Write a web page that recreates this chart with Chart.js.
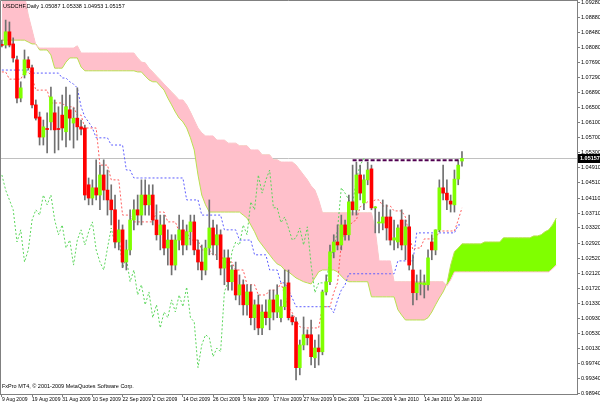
<!DOCTYPE html>
<html>
<head>
<meta charset="utf-8">
<script src="https://cdn.jsdelivr.net/npm/chart.js@4/dist/chart.umd.min.js"></script>
<style>
  html, body { margin: 0; padding: 0; background: #fff; }
  #wrap { width: 600px; height: 404px; }
</style>
</head>
<body>
<div id="wrap"><canvas id="chart" width="600" height="404"></canvas></div>
<script>
// USDCHF daily bars, one entry per trading day, bar 0 = first bar on screen
const opens = [
  1.0815, 1.0815, 1.0850, 1.0818, 1.0776, 1.0675, 1.0736, 1.0776, 1.0755, 1.0657,
  1.0625, 1.0572, 1.0593, 1.0612, 1.0636, 1.0593, 1.0630, 1.0586, 1.0644, 1.0609,
  1.0622, 1.0599, 1.0596, 1.0446, 1.0411, 1.0438, 1.0419, 1.0472, 1.0432, 1.0406,
  1.0380, 1.0295, 1.0327, 1.0242, 1.0274, 1.0353, 1.0380, 1.0366, 1.0419, 1.0393,
  1.0419, 1.0353, 1.0314, 1.0340, 1.0279, 1.0300, 1.0234, 1.0300, 1.0327, 1.0287,
  1.0322, 1.0348, 1.0274, 1.0242, 1.0221, 1.0279, 1.0332, 1.0287, 1.0314, 1.0226,
  1.0253, 1.0190, 1.0221, 1.0155, 1.0182, 1.0129, 1.0163, 1.0095, 1.0129, 1.0068,
  1.0110, 1.0095, 1.0142, 1.0110, 1.0095, 1.0124, 1.0187, 1.0097, 1.0084, 0.9963,
  1.0023, 1.0050, 1.0050, 0.9989, 1.0015, 1.0005, 1.0163, 1.0190, 1.0269, 1.0295,
  1.0287, 1.0340, 1.0314, 1.0401, 1.0380, 1.0472, 1.0398, 1.0459, 1.0488, 1.0385,
  1.0345, 1.0345, 1.0361, 1.0361, 1.0300, 1.0295, 1.0353, 1.0287, 1.0335, 1.0221,
  1.0161, 1.0184, 1.0182, 1.0182, 1.0295, 1.0274, 1.0327, 1.0438, 1.0424, 1.0403,
  1.0393, 1.0461, 1.05087
];
const highs = [
  1.0828, 1.0881, 1.0876, 1.0834, 1.0786, 1.0718, 1.0802, 1.0784, 1.0762, 1.0670,
  1.0638, 1.0617, 1.0636, 1.0704, 1.0670, 1.0652, 1.0683, 1.0704, 1.0683, 1.0649,
  1.0702, 1.0617, 1.0604, 1.0464, 1.0459, 1.0512, 1.0498, 1.0512, 1.0485, 1.0446,
  1.0419, 1.0353, 1.0340, 1.0300, 1.0380, 1.0406, 1.0419, 1.0459, 1.0459, 1.0446,
  1.0446, 1.0393, 1.0366, 1.0366, 1.0327, 1.0314, 1.0314, 1.0366, 1.0353, 1.0340,
  1.0366, 1.0366, 1.0300, 1.0287, 1.0300, 1.0406, 1.0353, 1.0340, 1.0327, 1.0274,
  1.0274, 1.0234, 1.0242, 1.0208, 1.0195, 1.0182, 1.0182, 1.0142, 1.0155, 1.0129,
  1.0142, 1.0168, 1.0168, 1.0182, 1.0142, 1.0221, 1.0221, 1.0102, 1.0095, 1.0036,
  1.0097, 1.0063, 1.0089, 1.0036, 1.0050, 1.0168, 1.0208, 1.0287, 1.0314, 1.0340,
  1.0366, 1.0353, 1.0419, 1.0498, 1.0506, 1.0498, 1.0472, 1.0506, 1.0498, 1.0388,
  1.0374, 1.0406, 1.0393, 1.0380, 1.0353, 1.0340, 1.0380, 1.0353, 1.0366, 1.0261,
  1.0208, 1.0221, 1.0208, 1.0274, 1.0314, 1.0327, 1.0459, 1.0498, 1.0459, 1.0419,
  1.0485, 1.0512, 1.05338
];
const lows = [
  1.0810, 1.0807, 1.0810, 1.0770, 1.0662, 1.0665, 1.0728, 1.0749, 1.0649, 1.0617,
  1.0551, 1.0551, 1.0530, 1.0591, 1.0530, 1.0538, 1.0564, 1.0546, 1.0564, 1.0543,
  1.0564, 1.0578, 1.0406, 1.0393, 1.0393, 1.0406, 1.0380, 1.0406, 1.0366, 1.0340,
  1.0279, 1.0274, 1.0227, 1.0221, 1.0261, 1.0327, 1.0340, 1.0340, 1.0366, 1.0366,
  1.0340, 1.0300, 1.0274, 1.0261, 1.0234, 1.0208, 1.0221, 1.0274, 1.0261, 1.0274,
  1.0287, 1.0261, 1.0221, 1.0195, 1.0208, 1.0261, 1.0261, 1.0248, 1.0208, 1.0182,
  1.0168, 1.0168, 1.0142, 1.0129, 1.0102, 1.0102, 1.0076, 1.0063, 1.0050, 1.0050,
  1.0076, 1.0063, 1.0089, 1.0095, 1.0084, 1.0116, 1.0089, 1.0076, 0.9931, 0.9944,
  1.0010, 1.0023, 0.9970, 0.9963, 0.9970, 0.9997, 1.0155, 1.0182, 1.0253, 1.0274,
  1.0274, 1.0300, 1.0300, 1.0366, 1.0366, 1.0406, 1.0380, 1.0446, 1.0380, 1.0319,
  1.0319, 1.0327, 1.0300, 1.0287, 1.0274, 1.0279, 1.0274, 1.0248, 1.0221, 1.0129,
  1.0142, 1.0155, 1.0147, 1.0168, 1.0248, 1.0261, 1.0322, 1.0406, 1.0380, 1.0374,
  1.0374, 1.0446, 1.04953
];
const closes = [
  1.0814, 1.0850, 1.0815, 1.0781, 1.0675, 1.0702, 1.0776, 1.0755, 1.0657, 1.0622,
  1.0572, 1.0599, 1.0592, 1.0678, 1.0591, 1.0592, 1.0596, 1.0652, 1.0622, 1.0622,
  1.0599, 1.0593, 1.0419, 1.0411, 1.0438, 1.0419, 1.0472, 1.0432, 1.0406, 1.0380,
  1.0295, 1.0327, 1.0242, 1.0274, 1.0353, 1.0380, 1.0366, 1.0419, 1.0393, 1.0419,
  1.0353, 1.0314, 1.0340, 1.0279, 1.0300, 1.0234, 1.0300, 1.0327, 1.0287, 1.0322,
  1.0348, 1.0274, 1.0242, 1.0221, 1.0279, 1.0332, 1.0287, 1.0314, 1.0226, 1.0253,
  1.0190, 1.0221, 1.0155, 1.0182, 1.0129, 1.0163, 1.0095, 1.0129, 1.0068, 1.0110,
  1.0095, 1.0142, 1.0110, 1.0155, 1.0124, 1.0176, 1.0095, 1.0084, 0.9963, 1.0023,
  1.0050, 1.0042, 0.9992, 1.0015, 1.0005, 1.0163, 1.0190, 1.0269, 1.0295, 1.0287,
  1.0340, 1.0314, 1.0401, 1.0380, 1.0472, 1.0424, 1.0459, 1.0485, 1.0385, 1.0386,
  1.0346, 1.0361, 1.0332, 1.0300, 1.0306, 1.0332, 1.0287, 1.0335, 1.0234, 1.0161,
  1.0187, 1.0187, 1.0187, 1.0253, 1.0274, 1.0327, 1.0438, 1.0424, 1.0406, 1.0395,
  1.0461, 1.0498, 1.05157
];

// ichimoku lines
const tenkan = [
  1.0744, 1.0744, 1.0725, 1.0725, 1.0725, 1.0725, 1.0744, 1.0744, 1.0731, 1.0696,
  1.0696, 1.0696, 1.0696, 1.0662, 1.0662, 1.0662, 1.0662, 1.0652, 1.0652, 1.0652,
  1.0630, 1.0630, 1.0596, 1.0596, 1.0596, 1.0596, 1.0498, 1.0498, 1.0498, 1.0459,
  1.0459, 1.0459, 1.0366, 1.0366, 1.0366, 1.0348, 1.0348, 1.0348, 1.0348, 1.0348,
  1.0348, 1.0374, 1.0374, 1.0374, 1.0348, 1.0348, 1.0348, 1.0322, 1.0322, 1.0322,
  1.0300, 1.0300, 1.0300, 1.0274, 1.0274, 1.0274, 1.0261, 1.0261, 1.0261, 1.0242,
  1.0242, 1.0242, 1.0221, 1.0221, 1.0221, 1.0182, 1.0182, 1.0182, 1.0155, 1.0155,
  1.0155, 1.0168, 1.0168, 1.0168, 1.0187, 1.0155, 1.0124, 1.0108, 1.0089, 1.0071,
  1.0068, 1.0068, 1.0068, 1.0068, 1.0068, 1.0124, 1.0124, 1.0124, 1.0161, 1.0187,
  1.0292, 1.0327, 1.0335, 1.0348, 1.0353, 1.0388, 1.0393, 1.0401, 1.0401, 1.0406,
  1.0406, 1.0390, 1.0390, 1.0390, 1.0377, 1.0377, 1.0377, 1.0361, 1.0314, 1.0274,
  1.0279, 1.0279, 1.0303, 1.0303, 1.0303, 1.0303, 1.0324, 1.0324, 1.0324, 1.0324,
  1.0324, 1.0353, 1.0385
];
const kijun = [
  1.0749, 1.0749, 1.0749, 1.0749, 1.0749, 1.0749, 1.0749, 1.0749, 1.0741, 1.0741,
  1.0741, 1.0741, 1.0741, 1.0741, 1.0741, 1.0741, 1.0728, 1.0728, 1.0718, 1.0712,
  1.0702, 1.0652, 1.0625, 1.0612, 1.0596, 1.0570, 1.0570, 1.0570, 1.0570, 1.0551,
  1.0551, 1.0551, 1.0551, 1.0485, 1.0485, 1.0464, 1.0464, 1.0464, 1.0464, 1.0464,
  1.0464, 1.0464, 1.0464, 1.0464, 1.0464, 1.0464, 1.0464, 1.0464, 1.0464, 1.0406,
  1.0406, 1.0406, 1.0406, 1.0366, 1.0366, 1.0366, 1.0366, 1.0366, 1.0366, 1.0327,
  1.0327, 1.0327, 1.0327, 1.0300, 1.0300, 1.0300, 1.0300, 1.0261, 1.0261, 1.0261,
  1.0261, 1.0221, 1.0221, 1.0221, 1.0187, 1.0187, 1.0168, 1.0147, 1.0124, 1.0124,
  1.0124, 1.0124, 1.0124, 1.0124, 1.0124, 1.0124, 1.0124, 1.0124, 1.0108, 1.0142,
  1.0168, 1.0182, 1.0211, 1.0211, 1.0211, 1.0211, 1.0211, 1.0211, 1.0211, 1.0211,
  1.0211, 1.0211, 1.0211, 1.0211, 1.0211, 1.0245, 1.0245, 1.0245, 1.0245, 1.0245,
  1.0319, 1.0319, 1.0319, 1.0319, 1.0319, 1.0319, 1.0319, 1.0319, 1.0319, 1.0319,
  1.0319, 1.0340, 1.0340
];
// cloud, already shifted 26 bars forward (runs past the last candle)
const spanA = [
  1.0828, 1.0828, 1.0828, 1.0828, 1.0828, 1.0828, 1.0828, 1.0823, 1.0818, 1.0818,
  1.0802, 1.0802, 1.0802, 1.0789, 1.0754, 1.0754, 1.0754, 1.0770, 1.0781, 1.0781,
  1.0781, 1.0757, 1.0747, 1.0747, 1.0747, 1.0747, 1.0747, 1.0747, 1.0747, 1.0747,
  1.0747, 1.0747, 1.0747, 1.0747, 1.0747, 1.0747, 1.0744, 1.0744, 1.0733, 1.0723,
  1.0718, 1.0718, 1.0707, 1.0696, 1.0675, 1.0657, 1.0638, 1.0622, 1.0612, 1.0596,
  1.0570, 1.0538, 1.0472, 1.0419, 1.0393, 1.0374, 1.0374, 1.0374, 1.0374, 1.0374,
  1.0374, 1.0374, 1.0374, 1.0374, 1.0366, 1.0358, 1.0340, 1.0322, 1.0300, 1.0287,
  1.0274, 1.0261, 1.0248, 1.0237, 1.0232, 1.0221, 1.0216, 1.0208, 1.0200, 1.0195,
  1.0190, 1.0187, 1.0184, 1.0200, 1.0216, 1.0221, 1.0221, 1.0221, 1.0221, 1.0216,
  1.0205, 1.0195, 1.0190, 1.0190, 1.0190, 1.0190, 1.0190, 1.0190, 1.0150, 1.0150,
  1.0150, 1.0150, 1.0150, 1.0150, 1.0150, 1.0116, 1.0102, 1.0089, 1.0089, 1.0089,
  1.0089, 1.0089, 1.0089, 1.0095, 1.0110, 1.0129, 1.0147, 1.0163, 1.0184, 1.0234,
  1.0269, 1.0279, 1.0290, 1.0290, 1.0290, 1.0290, 1.0290, 1.0290, 1.0295, 1.0295,
  1.0295, 1.0295, 1.0295, 1.0306, 1.0306, 1.0306, 1.0306, 1.0306, 1.0306, 1.0306,
  1.0306, 1.0311, 1.0311, 1.0314, 1.0322, 1.0327, 1.0340, 1.0358
];
const spanB = [
  1.0947, 1.0947, 1.0947, 1.0947, 1.0947, 1.0947, 1.0947, 1.0894, 1.0855, 1.0815,
  1.0807, 1.0807, 1.0807, 1.0807, 1.0807, 1.0807, 1.0807, 1.0807, 1.0807, 1.0807,
  1.0813, 1.0794, 1.0794, 1.0794, 1.0794, 1.0794, 1.0794, 1.0794, 1.0794, 1.0794,
  1.0794, 1.0794, 1.0794, 1.0794, 1.0794, 1.0794, 1.0781, 1.0770, 1.0768, 1.0754,
  1.0744, 1.0733, 1.0723, 1.0712, 1.0702, 1.0691, 1.0681, 1.0670, 1.0670, 1.0657,
  1.0638, 1.0617, 1.0596, 1.0583, 1.0575, 1.0575, 1.0575, 1.0564, 1.0564, 1.0564,
  1.0556, 1.0556, 1.0556, 1.0549, 1.0549, 1.0549, 1.0538, 1.0538, 1.0538, 1.0525,
  1.0525, 1.0525, 1.0512, 1.0512, 1.0506, 1.0506, 1.0506, 1.0506, 1.0498, 1.0485,
  1.0472, 1.0459, 1.0443, 1.0432, 1.0406, 1.0372, 1.0372, 1.0372, 1.0372, 1.0372,
  1.0372, 1.0372, 1.0372, 1.0372, 1.0372, 1.0372, 1.0372, 1.0372, 1.0372, 1.0327,
  1.0245, 1.0245, 1.0245, 1.0245, 1.0190, 1.0190, 1.0190, 1.0190, 1.0190, 1.0190,
  1.0190, 1.0190, 1.0190, 1.0190, 1.0190, 1.0190, 1.0190, 1.0190, 1.0179, 1.0195,
  1.0216, 1.0216, 1.0216, 1.0216, 1.0216, 1.0216, 1.0216, 1.0216, 1.0216, 1.0216,
  1.0216, 1.0216, 1.0216, 1.0216, 1.0216, 1.0216, 1.0216, 1.0216, 1.0216, 1.0216,
  1.0216, 1.0216, 1.0216, 1.0216, 1.0216, 1.0216, 1.0224, 1.0234
];

const dateTicks = [0, 8, 16, 24, 32, 40, 48, 56, 64, 72, 80, 88, 96, 104, 112, 120];
const dateLabels = [
  '9 Aug 2009', '19 Aug 2009', '31 Aug 2009', '10 Sep 2009', '22 Sep 2009', '2 Oct 2009',
  '14 Oct 2009', '26 Oct 2009', '5 Nov 2009', '17 Nov 2009', '27 Nov 2009', '9 Dec 2009',
  '21 Dec 2009', '4 Jan 2010', '14 Jan 2010', '26 Jan 2010'
];
const priceTicks = [
  '1.09280', '1.08880', '1.08480', '1.08080', '1.07690', '1.07290', '1.06890', '1.06500',
  '1.06100', '1.05700', '1.05300', '1.04910', '1.04510', '1.04110', '1.03710', '1.03320',
  '1.02920', '1.02520', '1.02120', '1.01720', '1.01330', '1.00930', '1.00530', '1.00130',
  '0.99740', '0.99340', '0.98940'
];
const symbol = 'USDCHF,Daily';
const lastQuote = ['1.05087', '1.05338', '1.04953', '1.05157'];
const copyright = 'FxPro MT4, \u00a9 2001-2009 MetaQuotes Software Corp.';
const resistance = { from: 93, to: 121, level: 1.0511 };

const SLOTS = 153;     // bar slots across the visible chart
const CHIKOU_SHIFT = 26;

const xy = (arr, shift) => arr.map((v, i) => ({ x: i + (shift || 0), y: v }));

const bodies = opens.map((o, i) => ({ x: i, y: [Math.min(o, closes[i]), Math.max(o, closes[i])] }));
const wicks = opens.map((o, i) => ({ x: i, y: [lows[i], highs[i]] }));
const bodyColors = opens.map((o, i) => {
  if (Math.abs(closes[i] - o) < 0.00005) return '#000000';
  return closes[i] > o ? '#80ff00' : '#ff0000';
});

const mtOverlay = {
  id: 'mtOverlay',
  beforeDatasetsDraw(chart) {
    const { ctx, chartArea: a, scales: { y } } = chart;
    const py = Math.round(y.getPixelForValue(closes[closes.length - 1])) + 0.5;
    ctx.save();
    ctx.strokeStyle = '#c0c0c0';
    ctx.lineWidth = 1;
    ctx.beginPath();
    ctx.moveTo(a.left, py);
    ctx.lineTo(a.right, py);
    ctx.stroke();
    ctx.restore();
  },
  afterDraw(chart) {
    const { ctx, chartArea: a, scales: { y } } = chart;
    ctx.save();
    // frame
    ctx.strokeStyle = '#808080';
    ctx.lineWidth = 1;
    ctx.beginPath();
    ctx.moveTo(a.left + 0.5, a.bottom);
    ctx.lineTo(a.left + 0.5, a.top + 0.5);
    ctx.lineTo(a.right, a.top + 0.5);
    ctx.stroke();

    ctx.fillStyle = '#000';
    ctx.font = '5.5px "Liberation Sans"';
    ctx.textBaseline = 'alphabetic';
    ctx.fillText(symbol + ' ' + lastQuote.join(' '), 3, 8);
    ctx.fillText(copyright, 2, 388);

    // current price tag
    const py = Math.round(y.getPixelForValue(closes[closes.length - 1]));
    ctx.fillStyle = '#000';
    ctx.fillRect(a.right + 1, py - 4, 600 - a.right, 9);
    ctx.fillStyle = '#fff';
    ctx.font = 'bold 5.5px "Liberation Sans"';
    ctx.textBaseline = 'middle';
    ctx.fillText(lastQuote[3], a.right + 3, py + 0.5);
    ctx.restore();
  }
};

new Chart(document.getElementById('chart'), {
  type: 'bar',
  data: {
    datasets: [
      {
        type: 'line', label: 'Senkou A', data: xy(spanA),
        borderColor: '#b8e050', borderWidth: 1, pointRadius: 0,
        fill: { target: '+1', above: '#80ff00', below: '#ffc0cb' }, order: 10
      },
      {
        type: 'line', label: 'Senkou B', data: xy(spanB),
        borderColor: '#ffc0cb', borderWidth: 1, pointRadius: 0, fill: false, order: 9
      },
      {
        type: 'line', label: 'Chikou', data: xy(closes.slice(CHIKOU_SHIFT)),
        borderColor: '#5cd65c', borderWidth: 1, borderDash: [2, 2], pointRadius: 0, order: 8
      },
      {
        type: 'line', label: 'Kijun', data: xy(kijun),
        borderColor: '#5c5cff', borderWidth: 1, borderDash: [2, 2], pointRadius: 0, order: 7
      },
      {
        type: 'line', label: 'Tenkan', data: xy(tenkan),
        borderColor: '#ff5c5c', borderWidth: 1, borderDash: [2, 2], pointRadius: 0, order: 6
      },
      {
        label: 'wick', data: wicks, backgroundColor: '#707070',
        barThickness: 1, grouped: false, order: 3
      },
      {
        label: 'body', data: bodies, backgroundColor: bodyColors,
        barThickness: 3, minBarLength: 1, grouped: false, order: 2
      },
      {
        type: 'line', label: 'resistance',
        data: [{ x: resistance.from, y: resistance.level }, { x: resistance.to, y: resistance.level }],
        borderColor: '#500050', borderWidth: 2, borderDash: [4, 2], pointRadius: 0, order: 1
      }
    ]
  },
  options: {
    responsive: false,
    animation: false,
    devicePixelRatio: 1,
    layout: { padding: 0 },
    plugins: { legend: { display: false }, tooltip: { enabled: false } },
    scales: {
      x: {
        type: 'linear',
        offset: false,
        min: -0.5,
        max: SLOTS - 0.5,
        grid: { drawOnChartArea: false, offset: false, tickLength: 3, color: '#808080' },
        border: { color: '#808080' },
        ticks: {
          autoSkip: false, maxRotation: 0, align: 'start', padding: 0,
          color: '#000', font: { family: 'Liberation Sans', size: 5 },
          callback: (v) => {
            const k = dateTicks.indexOf(v);
            return k < 0 ? '' : dateLabels[k];
          }
        },
        afterBuildTicks: (s) => { s.ticks = dateTicks.map((v) => ({ value: v })); },
        afterFit: (s) => { s.height = 10; s.paddingLeft = 0; s.paddingRight = 0; }
      },
      y: {
        type: 'linear',
        position: 'right',
        min: 0.98935,
        max: 1.0934,
        grid: { drawOnChartArea: false, tickLength: 3, color: '#808080' },
        border: { color: '#808080' },
        ticks: {
          padding: 1, color: '#000', font: { family: 'Liberation Sans', size: 5.5 },
          callback: (v) => {
            const k = priceTicks.findIndex((t) => Math.abs(parseFloat(t) - v) < 1e-7);
            return k < 0 ? '' : priceTicks[k];
          }
        },
        afterBuildTicks: (s) => { s.ticks = priceTicks.map((t) => ({ value: parseFloat(t) })); },
        afterFit: (s) => { s.width = 23; s.paddingTop = 0; s.paddingBottom = 0; }
      }
    }
  },
  plugins: [mtOverlay]
});
</script>
</body>
</html>
